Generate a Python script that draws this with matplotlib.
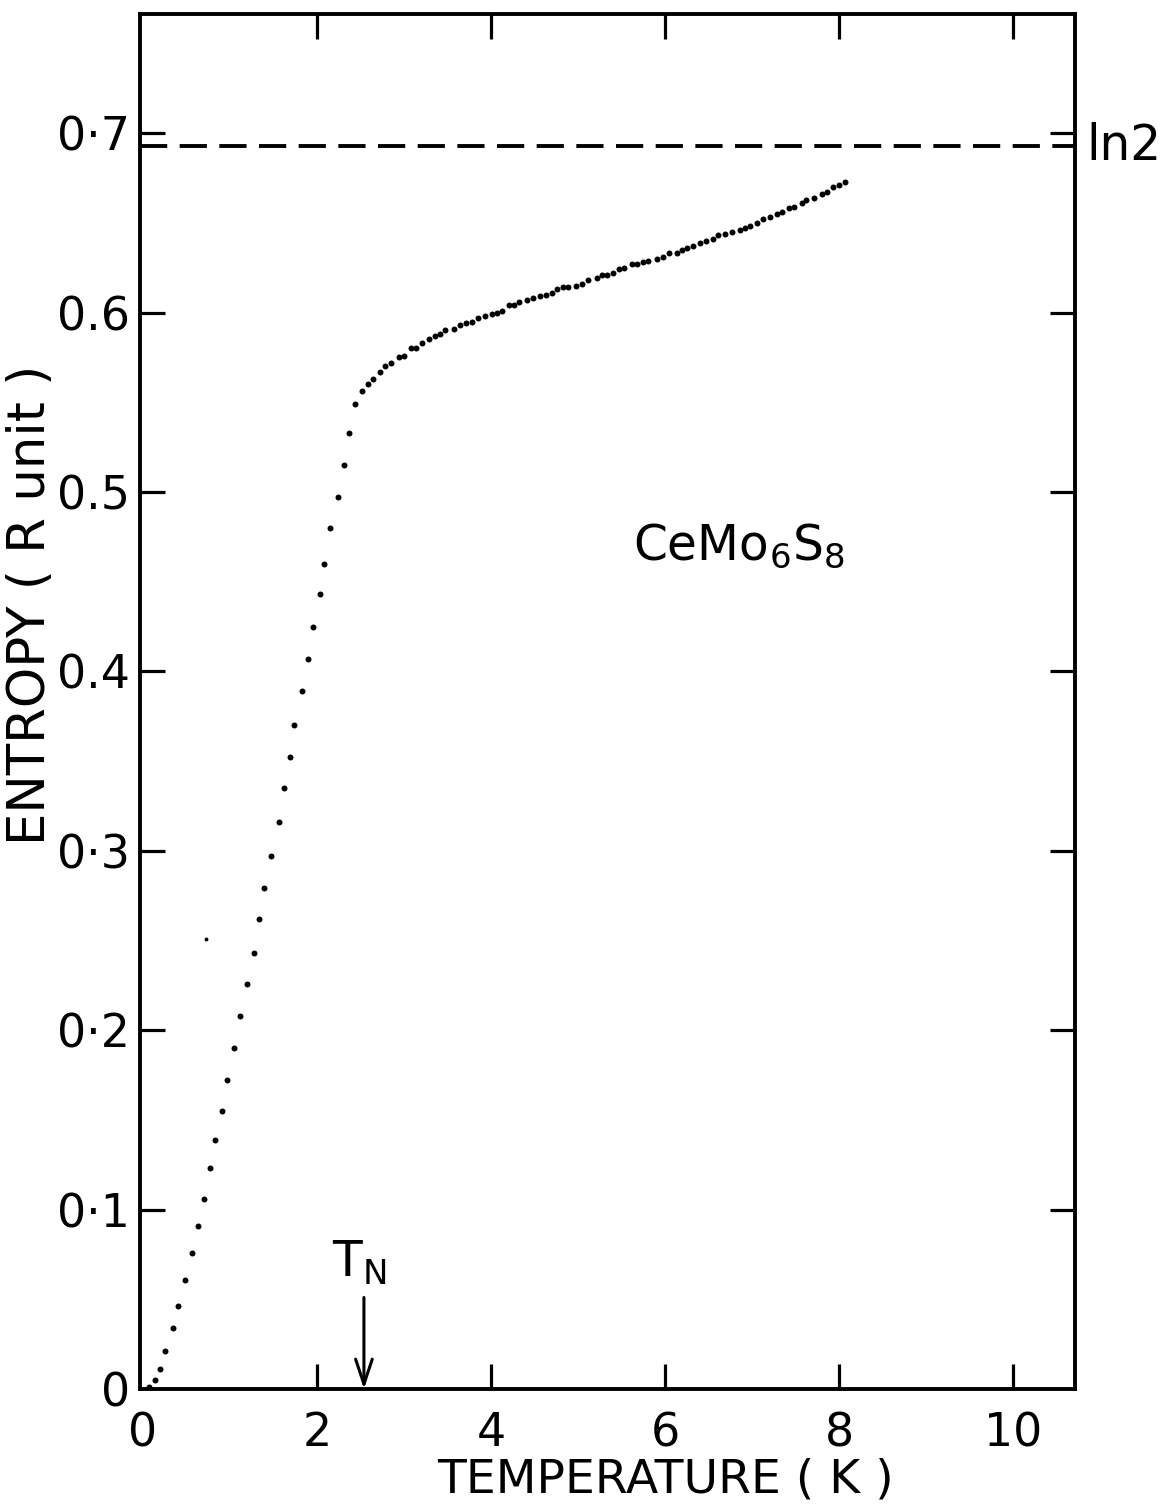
import matplotlib
matplotlib.use("Agg")
import matplotlib.pyplot as plt
from matplotlib import font_manager

plt.rcParams['font.family'] = ['DejaVu Sans']

# narrow face for the numerals when it is available
_installed = {f.name for f in font_manager.fontManager.ttflist}
if 'Liberation Sans Narrow' in _installed:
    NUM_FONT, NUM_SIZE = ['Liberation Sans Narrow', 'DejaVu Sans'], 35
else:
    NUM_FONT, NUM_SIZE = ['DejaVu Sans'], 33

# Entropy of CeMo6S8 (R units) versus temperature (K)
temperature = [
    0.072, 0.138, 0.195, 0.256, 0.345, 0.402, 0.486, 0.560, 0.632, 0.698,
    0.770, 0.831, 0.911, 0.969, 1.043, 1.115, 1.199, 1.272, 1.333, 1.391,
    1.475, 1.560, 1.624, 1.686, 1.739, 1.828, 1.897, 1.951, 2.034, 2.084,
    2.149, 2.238, 2.307, 2.368, 2.437, 2.520, 2.590, 2.644, 2.724, 2.778,
    2.854, 2.939, 3.003, 3.084, 3.141, 3.210, 3.287, 3.360, 3.414, 3.475,
    3.575, 3.640, 3.713, 3.782, 3.847, 3.934, 4.008, 4.066, 4.130, 4.203,
    4.264, 4.325, 4.410, 4.479, 4.563, 4.636, 4.698, 4.755, 4.831, 4.889,
    4.977, 5.043, 5.118, 5.215, 5.272, 5.337, 5.406, 5.475, 5.529, 5.617,
    5.682, 5.751, 5.808, 5.911, 5.974, 6.049, 6.134, 6.195, 6.256, 6.318,
    6.402, 6.471, 6.548, 6.613, 6.690, 6.770, 6.862, 6.920, 6.977, 7.054,
    7.130, 7.207, 7.284, 7.341, 7.429, 7.483, 7.571, 7.621, 7.716, 7.801,
    7.859, 7.928, 7.997, 8.069,
]
entropy = [
    0.001, 0.005, 0.011, 0.021, 0.034, 0.046, 0.061, 0.076, 0.091, 0.106,
    0.123, 0.139, 0.155, 0.172, 0.190, 0.208, 0.226, 0.243, 0.262, 0.279,
    0.297, 0.316, 0.335, 0.352, 0.370, 0.389, 0.407, 0.425, 0.443, 0.460,
    0.480, 0.497, 0.515, 0.533, 0.549, 0.556, 0.560, 0.563, 0.567, 0.570,
    0.572, 0.575, 0.576, 0.580, 0.580, 0.583, 0.585, 0.587, 0.588, 0.590,
    0.591, 0.593, 0.594, 0.595, 0.597, 0.598, 0.599, 0.600, 0.601, 0.604,
    0.604, 0.606, 0.607, 0.608, 0.609, 0.610, 0.611, 0.613, 0.614, 0.614,
    0.615, 0.616, 0.618, 0.619, 0.621, 0.621, 0.622, 0.624, 0.625, 0.627,
    0.627, 0.628, 0.629, 0.630, 0.631, 0.633, 0.633, 0.635, 0.636, 0.637,
    0.639, 0.640, 0.641, 0.643, 0.644, 0.645, 0.646, 0.647, 0.648, 0.650,
    0.652, 0.653, 0.655, 0.656, 0.658, 0.659, 0.661, 0.663, 0.664, 0.666,
    0.667, 0.670, 0.671, 0.673,
]
# isolated point off the curve
extra_t = [0.721]
extra_s = [0.251]

ln2_value = 0.693
t_neel = 2.54

x_ticks = [0, 2, 4, 6, 8, 10]
x_ticklabels = ["0", "2", "4", "6", "8", "10"]
y_ticks = [0.0, 0.1, 0.2, 0.3, 0.4, 0.5, 0.6, 0.7]
y_ticklabels = ["0", "0·1", "0·2", "0·3", "0.4", "0.5", "0.6", "0·7"]

W, H, DPI = 1176, 1506, 100
fig = plt.figure(figsize=(W / DPI, H / DPI), dpi=DPI)
ax = fig.add_axes([140 / W, 1 - 1389 / H, (1075 - 140) / W, (1389 - 14) / H])

ax.plot(temperature, entropy, linestyle="none", marker="o", ms=4.3,
        mfc="black", mec="black", mew=0)
ax.plot(extra_t, extra_s, linestyle="none", marker="o", ms=2.8,
        mfc="black", mec="black", mew=0)

# ln 2 limit
ax.axhline(ln2_value, color="black", lw=2.8, dashes=(7.0, 3.2))

ax.set_xlim(-0.034, 10.713)
ax.set_ylim(0, 0.7664)

ax.set_xticks(x_ticks)
ax.set_xticklabels(x_ticklabels, family=NUM_FONT, fontsize=NUM_SIZE)
ax.set_yticks(y_ticks)
ax.set_yticklabels(y_ticklabels, family=NUM_FONT, fontsize=NUM_SIZE)

ax.tick_params(axis="both", which="major", direction="in", length=18,
               width=2.3, top=True, right=True, color="black")
ax.tick_params(axis="x", pad=16)
ax.tick_params(axis="y", pad=7)
# no tick marks at the origin
for t in (ax.xaxis.get_major_ticks()[0], ax.yaxis.get_major_ticks()[0]):
    t.tick1line.set_visible(False)
    t.tick2line.set_visible(False)

for s in ax.spines.values():
    s.set_linewidth(2.8)

ax.text(0.562, -0.066, "TEMPERATURE ( K )", transform=ax.transAxes,
        ha="center", va="center", fontsize=34)
ax.text(-0.117, 0.57, "ENTROPY ( R unit )", transform=ax.transAxes,
        ha="center", va="center", rotation=90, fontsize=37)

ax.text(1.012, ln2_value, "ln2", transform=ax.get_yaxis_transform(),
        ha="left", va="center", fontsize=35)

ax.text(5.63, 0.462, r"CeMo$_6$S$_8$", ha="left", va="baseline",
        fontsize=35)

ax.annotate("", xy=(t_neel, 0.0), xytext=(t_neel, 0.051),
            arrowprops=dict(arrowstyle="->,head_length=0.9,head_width=0.3",
                            lw=2.2, color="black", mutation_scale=20,
                            shrinkA=0, shrinkB=0))
ax.text(t_neel - 0.05, 0.057, r"T$_\mathregular{N}$", ha="center",
        va="bottom", fontsize=35)

fig.savefig("out.png", dpi=DPI, facecolor="white")
